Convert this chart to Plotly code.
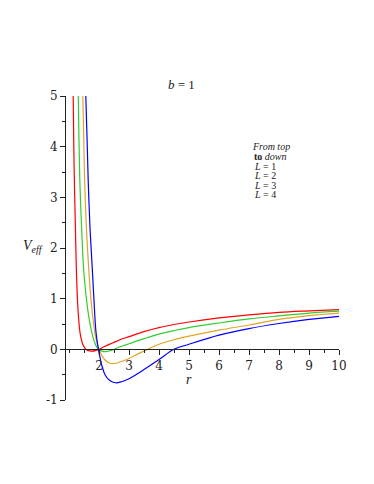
import plotly.graph_objects as go

# ---- data ----
r_L1 = [1.14, 1.16, 1.18, 1.21, 1.24, 1.28, 1.32, 1.37, 1.44, 1.52, 1.62, 1.75, 1.88, 2.0, 2.2, 2.45, 2.7, 3.0, 3.5, 4.0, 4.5, 5.0, 6.0, 7.0, 8.0, 9.0, 10.0]
V_L1 = [5.0, 4.0, 3.3, 2.5, 1.7, 1.0, 0.62, 0.32, 0.13, 0.03, -0.02, -0.035, -0.025, 0.0, 0.06, 0.125, 0.19, 0.25, 0.35, 0.43, 0.49, 0.54, 0.62, 0.68, 0.73, 0.76, 0.785]

r_L2 = [1.31, 1.33, 1.36, 1.42, 1.49, 1.58, 1.66, 1.75, 1.84, 1.92, 2.0, 2.1, 2.22, 2.35, 2.5, 2.7, 3.0, 3.5, 4.0, 4.5, 5.0, 6.0, 7.0, 8.0, 9.0, 10.0]
V_L2 = [5.0, 4.2, 3.34, 2.4, 1.56, 1.0, 0.64, 0.36, 0.16, 0.05, 0.0, -0.035, -0.045, -0.03, 0.0, 0.05, 0.11, 0.21, 0.30, 0.37, 0.43, 0.52, 0.60, 0.66, 0.715, 0.755]

r_L3 = [1.46, 1.49, 1.52, 1.58, 1.65, 1.73, 1.80, 1.87, 1.94, 2.0, 2.1, 2.2, 2.35, 2.5, 2.7, 3.0, 3.3, 3.62, 4.0, 4.5, 5.0, 6.0, 7.0, 8.0, 9.0, 10.0]
V_L3 = [5.0, 4.2, 3.34, 2.4, 1.66, 1.0, 0.6, 0.3, 0.11, 0.0, -0.13, -0.21, -0.27, -0.28, -0.25, -0.18, -0.09, 0.0, 0.1, 0.19, 0.26, 0.38, 0.48, 0.59, 0.665, 0.715]

r_L4 = [1.56, 1.60, 1.64, 1.70, 1.77, 1.83, 1.90, 1.98, 2.04, 2.1, 2.2, 2.35, 2.55, 2.75, 3.0, 3.5, 4.0, 4.5, 5.0, 6.0, 7.0, 8.0, 9.0, 10.0]
V_L4 = [5.0, 4.2, 3.34, 2.4, 1.66, 1.0, 0.34, 0.0, -0.18, -0.33, -0.5, -0.61, -0.66, -0.64, -0.58, -0.4, -0.2, 0.0, 0.1, 0.28, 0.41, 0.51, 0.59, 0.65]

series = [
    ("L = 1", r_L1, V_L1, "#ff0000"),
    ("L = 2", r_L2, V_L2, "#33cc33"),
    ("L = 3", r_L3, V_L3, "#e0a526"),
    ("L = 4", r_L4, V_L4, "#0000ff"),
]

x_ticks = [2, 3, 4, 5, 6, 7, 8, 9, 10]
y_ticks = [-1, 0, 1, 2, 3, 4, 5]
legend_lines = ["<i>From top</i>", "<b>to</b> <i>down</i>", "<i>L</i> = 1", "<i>L</i> = 2", "<i>L</i> = 3", "<i>L</i> = 4"]

FONT = "DejaVu Serif"
TFONT = "Liberation Serif"

# the page body adds an 8px offset; the figure is sized/margined to compensate
OFF = 8
W, H = 374 - OFF, 484 - OFF
PL, PR, PT, PB = 66, 339.3, 96, 399.6   # plot area in window pixels
ML, MT = PL - OFF, PT - OFF
MR = W - (PR - OFF)
MB = H - (PB - OFF)
PW, PH = PR - PL, PB - PT


def px2paper(px, py):
    return (px - PL) / PW, 1 - (py - PT) / PH


fig = go.Figure()
for name, xs, ys, col in series:
    fig.add_trace(go.Scatter(x=xs, y=ys, mode="lines", name=name,
                             line=dict(color=col, width=1.2, shape="spline", smoothing=1.0),
                             hoverinfo="skip"))

fig.update_layout(
    width=W, height=H,
    margin=dict(l=ML, r=MR, t=MT, b=MB, pad=0),
    paper_bgcolor="white", plot_bgcolor="white",
    showlegend=False,
    font=dict(family=FONT, size=12, color="#222"),
    xaxis=dict(range=[0.9, 10], anchor="free", position=1/6,
               tickmode="array", tickvals=x_ticks, ticktext=[str(v) for v in x_ticks],
               showline=True, linecolor="#222", linewidth=1,
               ticks="outside", ticklen=5, tickcolor="#222", tickwidth=1,
               minor=dict(dtick=0.5, ticks="outside", ticklen=3, tickcolor="#222"),
               showgrid=False, zeroline=False,
               tickfont=dict(family=FONT, size=12, color="#222")),
    yaxis=dict(range=[-1, 5],
               tickmode="array", tickvals=y_ticks, ticktext=["-1", "0", "1", "2", "3", "4", "5"],
               showline=True, linecolor="#222", linewidth=1,
               ticks="outside", ticklen=5, tickcolor="#222", tickwidth=1,
               minor=dict(dtick=0.5, ticks="outside", ticklen=3, tickcolor="#222"),
               showgrid=False, zeroline=False,
               tickfont=dict(family=FONT, size=12, color="#222")),
)

x, y = px2paper(182, 85)
fig.add_annotation(text="<i>b</i> = 1", xref="paper", yref="paper", x=x, y=y,
                   xanchor="center", yanchor="middle", showarrow=False,
                   font=dict(family=TFONT, size=13, color="#222"))
x, y = px2paper(189, 379)
fig.add_annotation(text="<i>r</i>", xref="paper", yref="paper", x=x, y=y,
                   xanchor="center", yanchor="middle", showarrow=False,
                   font=dict(family=TFONT, size=14, color="#222"))
x, y = px2paper(21, 246)
fig.add_annotation(text="<i>V</i><sub><i>eff</i></sub>", xref="paper", yref="paper", x=x, y=y,
                   xanchor="left", yanchor="middle", showarrow=False,
                   font=dict(family=TFONT, size=14, color="#222"))

leg_y = [146, 156, 166, 175.5, 185, 194.5]
for i, (t, py) in enumerate(zip(legend_lines, leg_y)):
    px = 250 if i == 0 else 252
    x, y = px2paper(px, py)
    fig.add_annotation(text=t, xref="paper", yref="paper", x=x, y=y,
                       xanchor="left", yanchor="middle", showarrow=False,
                       font=dict(family=TFONT, size=10, color="#222"))

fig.write_html("out.html")
